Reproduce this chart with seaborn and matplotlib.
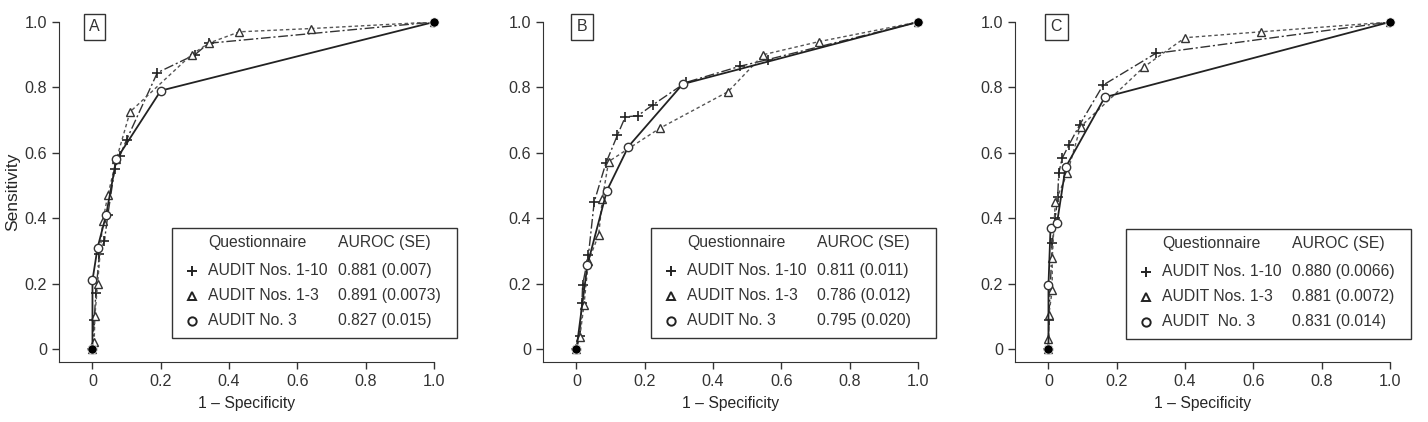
import numpy as np
import matplotlib
matplotlib.use("Agg")
import matplotlib.pyplot as plt
import seaborn as sns
from matplotlib.patches import Rectangle

# ---- data ----
panel_letters = ["A", "B", "C"]
series_names = ["AUDIT Nos. 1-10", "AUDIT Nos. 1-3", "AUDIT No. 3"]
series_names_c = ["AUDIT Nos. 1-10", "AUDIT Nos. 1-3", "AUDIT  No. 3"]

auroc_a = ["0.881 (0.007)", "0.891 (0.0073)", "0.827 (0.015)"]
auroc_b = ["0.811 (0.011)", "0.786 (0.012)", "0.795 (0.020)"]
auroc_c = ["0.880 (0.0066)", "0.881 (0.0072)", "0.831 (0.014)"]

# panel A
a10_x = [0, 0.005, 0.01, 0.02, 0.035, 0.045, 0.065, 0.08, 0.10, 0.19, 0.30, 0.34, 1.0]
a10_y = [0, 0.09, 0.17, 0.29, 0.33, 0.41, 0.55, 0.59, 0.64, 0.845, 0.90, 0.935, 1.0]
a13_x = [0, 0.005, 0.007, 0.015, 0.03, 0.045, 0.07, 0.11, 0.29, 0.34, 0.43, 0.64, 1.0]
a13_y = [0, 0.02, 0.10, 0.20, 0.39, 0.47, 0.58, 0.725, 0.90, 0.935, 0.97, 0.98, 1.0]
a3_x = [0, 0.0, 0.015, 0.04, 0.07, 0.20, 1.0]
a3_y = [0, 0.21, 0.31, 0.41, 0.58, 0.79, 1.0]

# panel B
b10_x = [0, 0.01, 0.016, 0.018, 0.035, 0.052, 0.086, 0.12, 0.143, 0.179, 0.223, 0.32, 0.48, 0.56, 1.0]
b10_y = [0, 0.04, 0.14, 0.196, 0.287, 0.45, 0.568, 0.654, 0.71, 0.713, 0.746, 0.815, 0.865, 0.885, 1.0]
b13_x = [0, 0.01, 0.022, 0.035, 0.065, 0.076, 0.094, 0.244, 0.444, 0.547, 0.71, 1.0]
b13_y = [0, 0.038, 0.135, 0.269, 0.349, 0.46, 0.573, 0.675, 0.787, 0.90, 0.94, 1.0]
b3_x = [0, 0.032, 0.089, 0.152, 0.311, 1.0]
b3_y = [0, 0.257, 0.484, 0.619, 0.81, 1.0]

# panel C
c10_x = [0, 0.001, 0.011, 0.02, 0.027, 0.03, 0.04, 0.06, 0.091, 0.16, 0.314, 1.0]
c10_y = [0, 0.09, 0.323, 0.40, 0.466, 0.537, 0.583, 0.624, 0.685, 0.807, 0.904, 1.0]
c13_x = [0, 0.0, 0.001, 0.011, 0.011, 0.02, 0.055, 0.094, 0.28, 0.40, 0.622, 1.0]
c13_y = [0, 0.03, 0.104, 0.18, 0.277, 0.45, 0.537, 0.68, 0.863, 0.952, 0.97, 1.0]
c3_x = [0, 0.0, 0.006, 0.025, 0.05, 0.165, 1.0]
c3_y = [0, 0.195, 0.37, 0.385, 0.555, 0.77, 1.0]

end_x = [0, 1.0]
end_y = [0, 1.0]

panels = [
    ((a10_x, a10_y), (a13_x, a13_y), (a3_x, a3_y), series_names, auroc_a),
    ((b10_x, b10_y), (b13_x, b13_y), (b3_x, b3_y), series_names, auroc_b),
    ((c10_x, c10_y), (c13_x, c13_y), (c3_x, c3_y), series_names_c, auroc_c),
]

sns.set_style("ticks")
plt.rcParams['font.family'] = ['Liberation Sans', 'DejaVu Sans']
plt.rcParams['text.color'] = '#333333'
plt.rcParams['xtick.color'] = '#333333'
plt.rcParams['ytick.color'] = '#333333'
plt.rcParams['axes.edgecolor'] = '#333333'

fig = plt.figure(figsize=(14.28, 4.22), dpi=100)
W, H = 1428.0, 422.0
lefts = [59, 543, 1015]
fs = 11.3

# line styles for the three questionnaires
styles = [
    dict(marker='+', ls=(0, (7, 2, 1.5, 2)), lw=1.0, color='#333333', ms=6.5,
         mew=1.2, mec='#222222', mfc='none'),
    dict(marker='^', ls=(0, (2.5, 2)), lw=1.0, color='#555555', ms=5.5,
         mew=1.0, mec='#333333', mfc='white'),
    dict(marker='o', ls='-', lw=1.3, color='#222222', ms=6,
         mew=1.0, mec='#333333', mfc='white'),
]

for i, (s10, s13, s3, names, aurocs) in enumerate(panels):
    ax = fig.add_axes([lefts[i] / W, 60 / H, 375 / W, 340 / H])
    for (xs, ys), st in zip([s10, s13, s3], styles):
        sns.lineplot(x=xs, y=ys, ax=ax, estimator=None, sort=False, **st)
    sns.scatterplot(x=end_x, y=end_y, ax=ax, color='black', s=45, zorder=5,
                    clip_on=False)

    ax.set_xlim(-0.098, 1.0)
    ax.set_ylim(-0.04, 1.0)
    ax.set_xticks([0, 0.2, 0.4, 0.6, 0.8, 1.0])
    ax.set_xticklabels(["0", "0.2", "0.4", "0.6", "0.8", "1.0"])
    ax.set_yticks([0, 0.2, 0.4, 0.6, 0.8, 1.0])
    ax.set_yticklabels(["0", "0.2", "0.4", "0.6", "0.8", "1.0"])
    ax.tick_params(labelsize=11.6, length=5, width=1)
    ax.tick_params(axis='x', pad=4)
    ax.set_xlabel("1 \u2013 Specificity", fontsize=fs, labelpad=5)
    if i == 0:
        ax.set_ylabel("Sensitivity", fontsize=12.5, labelpad=3)
    else:
        ax.set_ylabel("")
    sns.despine(ax=ax)

    # panel letter
    ax.text([0.006, 0.017, 0.023][i], 0.985, panel_letters[i], fontsize=11.5,
            ha='center', va='center',
            bbox=dict(boxstyle='square,pad=0.35', fc='white', ec='#333333', lw=1))

    # legend box
    bx0 = [0.232, 0.217, 0.226][i]
    by1 = [0.370, 0.370, 0.367][i]
    ax.add_patch(Rectangle((bx0, by1 - 0.336), 0.835, 0.336, fill=False,
                           ec='#333333', lw=1, clip_on=False, zorder=6))
    ax.text(bx0 + 0.106, by1 - 0.046, "Questionnaire", fontsize=fs, va='center')
    ax.text(bx0 + 0.487, by1 - 0.046, "AUROC (SE)", fontsize=fs, va='center')
    for k in range(3):
        yk = by1 - [0.131, 0.208, 0.284][k]
        st = styles[k]
        ax.plot([bx0 + 0.059], [yk], marker=st['marker'], color='#222222',
                ms=st['ms'], mew=1.4, mfc='white', ls='none', clip_on=False)
        ax.text(bx0 + 0.106, yk, names[k], fontsize=fs, va='center')
        ax.text(bx0 + 0.487, yk, aurocs[k], fontsize=fs, va='center')

fig.savefig("out.png", dpi=100, facecolor='white')
